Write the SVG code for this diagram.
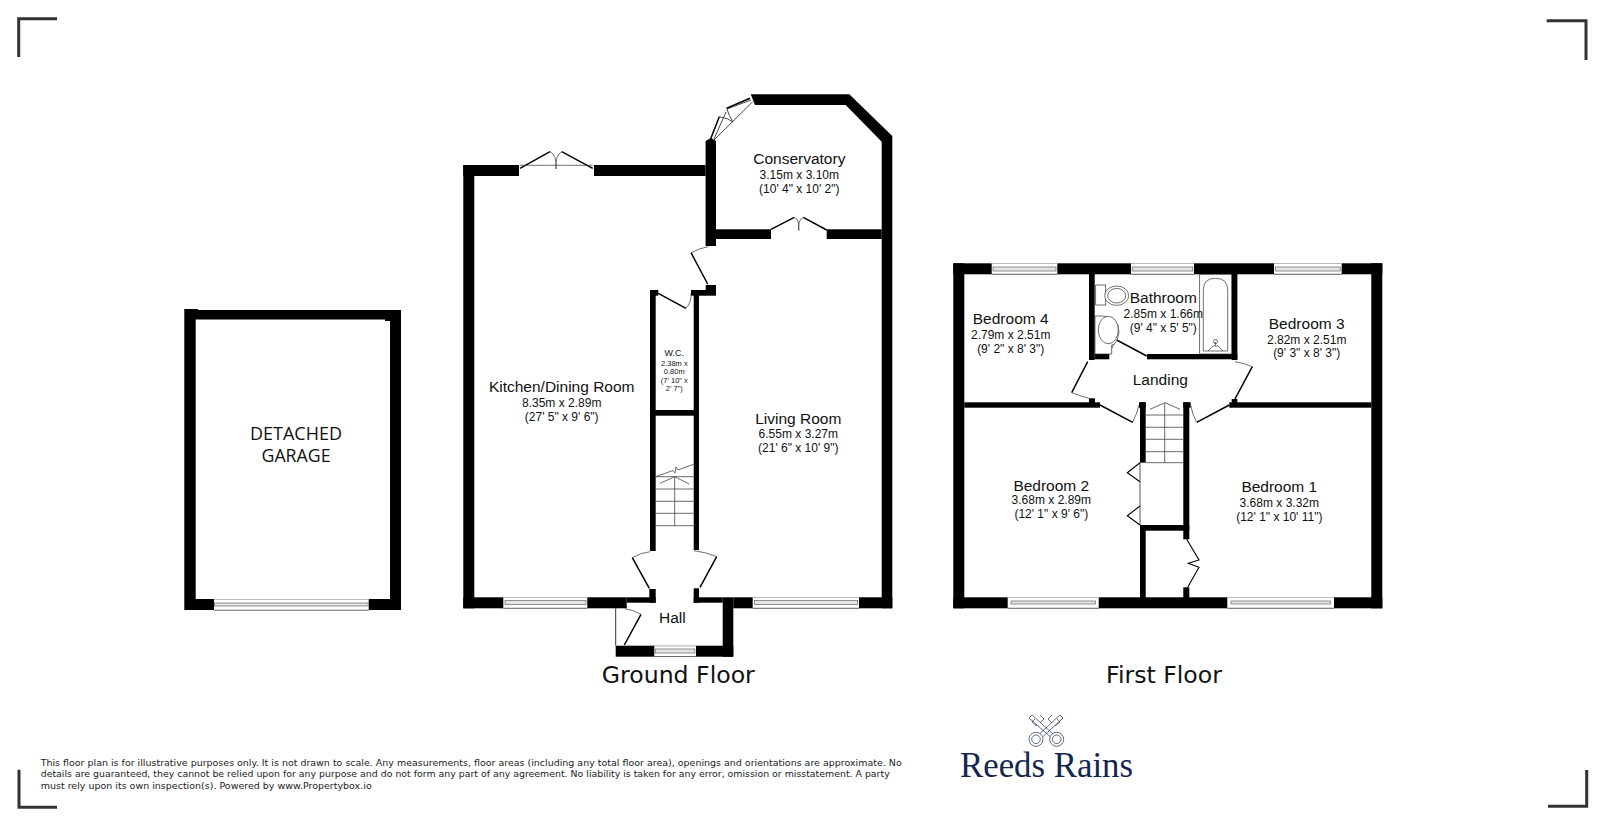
<svg xmlns="http://www.w3.org/2000/svg" width="1600" height="817" viewBox="0 0 1600 817">
<defs>
<style>
.wall{fill:#000}
.leaf{fill:none;stroke:#000;stroke-width:1.5}
.thin{fill:none;stroke:#333;stroke-width:.7}
.tread{fill:none;stroke:#444;stroke-width:.8}
.fix{fill:#fff;stroke:#333;stroke-width:.7}
.mark{fill:none;stroke:#333;stroke-width:3}
.w0{fill:#fff}
.wt{fill:#bbb}
.wb{fill:#444}
.wi{fill:#e4e4e4;stroke:#777;stroke-width:.8}
text{font-family:"Liberation Sans",Arial,sans-serif;fill:#111;text-anchor:middle}
.n{font-size:15.5px}
.d{font-size:12px}
.f{font-family:"DejaVu Sans",Verdana,sans-serif;font-size:23.6px}
.g{font-family:"Open Sans",sans-serif;font-size:18.5px}
.l{font-family:"DejaVu Sans",Verdana,sans-serif;font-size:9px;text-anchor:start;fill:#222}
.key{fill:none;stroke:#3a4668;stroke-width:.8}
.logo{font-family:"Liberation Serif",serif;font-size:36px;fill:#13264f;text-anchor:start}
</style>
</defs>
<rect width="1600" height="817" fill="#fff"/>

<g id="corners">
<path class="mark" d="M57 18.7H18.700V57"/>
<path class="mark" d="M1546.700 20.700H1586V60"/>
<path class="mark" d="M19 769.700V807.300H57"/>
<path class="mark" d="M1548 806.300H1586.700V770"/>
</g>

<g id="garage">
<path class="wall" fill-rule="evenodd" d="M184.300 309H198V310H401V610H184.300ZM195.700 321V599H390V321H385V319.500H195.700Z"/>
<g id="garage-window"><rect class="w0" x="214" y="598.500" width="154.700" height="12"/><rect class="wt" x="214" y="599" width="154.700" height="1"/><rect class="wi" x="214.500" y="603" width="153.700" height="3"/><rect class="wb" x="214" y="609.800" width="154.700" height=".8"/></g>
<text class="g" x="296" y="440" textLength="92" lengthAdjust="spacingAndGlyphs">DETACHED</text>
<text class="g" x="296" y="462.300" textLength="69" lengthAdjust="spacingAndGlyphs">GARAGE</text>
</g>

<g id="ground-floor-walls" class="wall">
<rect x="463.300" y="165" width="55.700" height="11"/>
<rect x="594" y="165" width="111.600" height="11"/>
<rect x="463.300" y="165" width="11" height="443.300"/>
<rect x="463.300" y="597.300" width="163.400" height="11"/>
<rect x="626.700" y="597.300" width="29" height="5.400"/>
<rect x="649.300" y="589" width="6.400" height="13.700"/>
<path d="M705.600 141L711 138L716 141V246H705.600Z"/>
<rect x="716" y="229.300" width="55" height="9.700"/>
<rect x="826.700" y="229.300" width="55" height="9.700"/>
<path d="M750.700 94.300H849.300L892.300 136V608.300H881.700V141.700L845.700 105H755Z"/>
<rect x="693.700" y="588.300" width="5.300" height="14.400"/>
<rect x="693.700" y="597.300" width="29" height="5.400"/>
<rect x="722.700" y="597.300" width="10.600" height="59.400"/>
<rect x="615.700" y="645.700" width="117.600" height="11"/>
<rect x="733.300" y="597.300" width="159" height="11"/>
<rect x="705.700" y="285" width="10.300" height="10.700"/>
<rect x="691" y="290" width="15" height="5.700"/>
<rect x="693.700" y="290" width="5.300" height="260"/>
<rect x="650" y="290" width="8.300" height="5.700"/>
<rect x="650" y="290" width="5.700" height="261"/>
<rect x="650" y="410" width="49" height="5.700"/>
</g>
<path id="hall-side" class="thin" style="stroke-width:1" d="M615.700 608.300V645.700"/>

<g id="ground-floor-windows">
<g id="gw1"><rect class="w0" x="503.300" y="597" width="84" height="11.500"/><rect class="wt" x="503.300" y="597" width="84" height="1"/><rect class="wi" x="505" y="600.500" width="81" height="4"/><rect class="wb" x="503.300" y="607.800" width="84" height=".8"/></g>
<g id="gw2"><rect class="w0" x="752.700" y="597" width="106.300" height="11.500"/><rect class="wt" x="752.700" y="597" width="106.300" height="1"/><rect class="wi" x="754.500" y="600.500" width="103" height="4"/><rect class="wb" x="752.700" y="607.800" width="106.300" height=".8"/></g>
<g id="gw3"><rect class="w0" x="654.300" y="645.500" width="41.700" height="11.500"/><rect class="wt" x="654.300" y="645.500" width="41.700" height="1"/><rect class="wi" x="655.500" y="649" width="39.300" height="4"/><rect class="wb" x="654.300" y="656.200" width="41.700" height=".8"/></g>
</g>

<g id="ground-floor-doors">
<path class="leaf" d="M520 168.300L550 151.700M561.700 151.700L592.700 168.300"/>
<path class="thin" d="M520 165.300H592.700M550 151.700Q557 155 556 169M561.700 151.700Q555 155 556 169"/>
<path class="leaf" d="M771 229.300L794.300 217.300M803.300 217.300L826.700 230"/>
<path class="thin" d="M794.300 217.300Q800 220 798.700 230.700M803.300 217.300Q797.500 220 798.700 230.700"/>
<path class="leaf" d="M710.500 139.300L719.300 116.700M726.700 108.300L750 98.300"/>
<path class="thin" style="stroke-width:.9" d="M713.300 140.700L752.700 101.700M719.300 116.700Q728 118 733 122M726.700 108.300Q729 116 733 122M714 139L726 112M727 109L751 100"/>
<path class="leaf" d="M691 252.700L707.700 284"/>
<path class="thin" d="M691 252.700Q700 248 708.300 246.700"/>
<path class="leaf" d="M658.300 293.300L686 308.300"/>
<path class="thin" d="M686 308.300Q692 302 691 293"/>
<path class="leaf" d="M632.300 557.700L649.300 588.300M716.700 556.700L700 587.300M641 614.300L624.300 645"/>
<path class="thin" d="M632.300 557.700Q640 553 650 551.700M716.700 556.700Q706 552 693.700 550.700M641 614.300Q634 610 625 608.700"/>
</g>

<g id="ground-floor-stairs">
<path class="tread" d="M655.700 476.700H693.700M655.700 489H693.700M655.700 501.300H693.700M655.700 513.300H693.700M655.700 525.700H693.700M674.700 476.700V525.700M674.700 476.700L660 483.300M674.700 476.700L689 484"/>
<path class="tread" d="M655.700 476.700L673 470.500L675 473L676 467L678 470L693.700 464.300"/>
</g>

<g id="first-floor-walls" class="wall">
<rect x="953.300" y="263.300" width="429" height="11"/>
<rect x="953.300" y="263.300" width="11" height="345"/>
<rect x="1371.300" y="263.300" width="11" height="345"/>
<rect x="953.300" y="597.300" width="429" height="11"/>
<rect x="1089" y="274" width="5.700" height="86"/>
<rect x="1231.700" y="274" width="5.700" height="86"/>
<rect x="1147" y="354" width="90.300" height="5.300"/>
<rect x="1094.700" y="354" width="14.600" height="5.300"/>
<rect x="964.300" y="402.300" width="135.700" height="5.400"/>
<rect x="1089" y="398.300" width="6" height="5"/>
<rect x="1229.300" y="402.300" width="142" height="5.400"/>
<rect x="1231.700" y="399" width="5.600" height="5"/>
<rect x="1139" y="402.300" width="6.700" height="5.400"/>
<rect x="1140" y="402.300" width="5.700" height="60.400"/>
<rect x="1183.300" y="402.300" width="7.400" height="5.400"/>
<rect x="1183.300" y="402.300" width="6" height="137"/>
<rect x="1140" y="525" width="49.300" height="5.700"/>
<rect x="1140" y="525" width="5.700" height="73"/>
<rect x="1183.300" y="587.300" width="6" height="11"/>
</g>

<g id="first-floor-windows">
<g id="fw1"><rect class="w0" x="991.700" y="263" width="65.600" height="11.500"/><rect class="wt" x="991.700" y="263" width="65.600" height="1"/><rect class="wi" x="993" y="267" width="63" height="4"/><rect class="wb" x="991.700" y="273.800" width="65.600" height=".8"/></g>
<g id="fw2"><rect class="w0" x="1131" y="263" width="63" height="11.500"/><rect class="wt" x="1131" y="263" width="63" height="1"/><rect class="wi" x="1132.300" y="267" width="60.400" height="4"/><rect class="wb" x="1131" y="273.800" width="63" height=".8"/></g>
<g id="fw3"><rect class="w0" x="1274" y="263" width="67.700" height="11.500"/><rect class="wt" x="1274" y="263" width="67.700" height="1"/><rect class="wi" x="1275.300" y="267" width="65" height="4"/><rect class="wb" x="1274" y="273.800" width="67.700" height=".8"/></g>
<g id="fw4"><rect class="w0" x="1007.700" y="597" width="91" height="11.500"/><rect class="wt" x="1007.700" y="597" width="91" height="1"/><rect class="wi" x="1011" y="601" width="84.500" height="3"/><rect class="wb" x="1007.700" y="607.800" width="91" height=".8"/></g>
<g id="fw5"><rect class="w0" x="1227.300" y="597" width="106.700" height="11.500"/><rect class="wt" x="1227.300" y="597" width="106.700" height="1"/><rect class="wi" x="1231" y="601" width="99.500" height="3"/><rect class="wb" x="1227.300" y="607.800" width="106.700" height=".8"/></g>
</g>

<g id="first-floor-doors">
<path class="leaf" d="M1116.700 340L1146.700 356M1087.700 361.700L1071.700 392.700M1100 405L1132.700 422.300M1229.300 405L1196.700 422.300M1252.300 366.700L1235 399"/>
<path class="thin" d="M1109.300 354Q1112 346 1116.700 340M1071.700 392.700Q1080 396 1089 398.300M1132.700 422.300Q1137 414 1139 405M1196.700 422.300Q1192 414 1190.700 405M1252.300 366.700Q1244 363 1235 361.700"/>
<path class="leaf" style="stroke-width:1.1" d="M1186.700 539.300L1199 560L1188.300 563.300L1199 567.300L1187.700 587.300"/>
<path class="thin" style="stroke:#555;stroke-width:1" d="M1140 462.700V525"/>
<path class="leaf" style="stroke-width:1.1" d="M1140 462.700L1127.300 472.700L1140 481.700M1140 506L1127.300 515.700L1140 525"/>
</g>

<g id="first-floor-stairs">
<path class="tread" d="M1145.700 415H1183.300M1145.700 427.300H1183.300M1145.700 439.300H1183.300M1145.700 451.700H1183.300M1145.700 462.700H1183.300M1164.700 402.700V462.700M1165 402.700L1150 409.300M1165 402.700L1180 409.300"/>
</g>

<g id="bathroom-fixtures">
<rect class="fix" x="1199.700" y="274.300" width="32" height="79.700"/>
<path class="fix" d="M1203.300 351V290Q1203.300 278.300 1215.500 278.300Q1227.700 278.300 1227.700 290V351Z"/>
<path class="thin" d="M1208 351L1213 346H1218L1223 351M1215.500 346V342"/>
<circle class="thin" cx="1215.500" cy="341.500" r="2"/>
<rect class="fix" x="1095.700" y="285" width="10" height="20"/>
<ellipse class="fix" cx="1116.700" cy="295.700" rx="12" ry="9.700"/>
<ellipse class="thin" cx="1116.700" cy="295.700" rx="9" ry="7.300"/>
<path class="fix" d="M1095 345V316H1103Q1119 318 1119 332Q1117 345 1111.700 345V354H1095Z"/>
<ellipse class="fix" cx="1108.300" cy="330" rx="10" ry="13.700"/>
</g>

<g id="labels">
<g id="label-conservatory"><text class="n" x="799.300" y="164">Conservatory</text><text class="d" x="799.300" y="179">3.15m x 3.10m</text><text class="d" x="799.300" y="192.500">(10' 4" x 10' 2")</text></g>
<g id="label-kitchen"><text class="n" x="561.700" y="392">Kitchen/Dining Room</text><text class="d" x="561.700" y="406.700">8.35m x 2.89m</text><text class="d" x="561.700" y="420.700">(27' 5" x 9' 6")</text></g>
<g id="label-living"><text class="n" x="798.300" y="424">Living Room</text><text class="d" x="798.300" y="438">6.55m x 3.27m</text><text class="d" x="798.300" y="451.700">(21' 6" x 10' 9")</text></g>
<g id="label-wc"><text x="674.300" y="355.700" style="font-size:9px">W.C.</text><text x="674.300" y="366" style="font-size:7.500px">2.38m x</text><text x="674.300" y="374.300" style="font-size:7.500px">0.80m</text><text x="674.300" y="382.700" style="font-size:7.500px">(7' 10" x</text><text x="674.300" y="391" style="font-size:7.500px">2' 7")</text></g>
<text id="label-hall" class="n" x="672.300" y="623.300">Hall</text>
<g id="label-bed4"><text class="n" x="1010.700" y="324">Bedroom 4</text><text class="d" x="1010.700" y="338.700">2.79m x 2.51m</text><text class="d" x="1010.700" y="352.700">(9' 2" x 8' 3")</text></g>
<g id="label-bath"><text class="n" x="1163.300" y="302.700">Bathroom</text><text class="d" x="1163.300" y="317.700">2.85m x 1.66m</text><text class="d" x="1163.300" y="332">(9' 4" x 5' 5")</text></g>
<g id="label-bed3"><text class="n" x="1306.700" y="329">Bedroom 3</text><text class="d" x="1306.700" y="344">2.82m x 2.51m</text><text class="d" x="1306.700" y="357.300">(9' 3" x 8' 3")</text></g>
<text id="label-landing" class="n" x="1160.300" y="385">Landing</text>
<g id="label-bed2"><text class="n" x="1051.300" y="491">Bedroom 2</text><text class="d" x="1051.300" y="504.300">3.68m x 2.89m</text><text class="d" x="1051.300" y="518.300">(12' 1" x 9' 6")</text></g>
<g id="label-bed1"><text class="n" x="1279.300" y="492">Bedroom 1</text><text class="d" x="1279.300" y="506.700">3.68m x 3.32m</text><text class="d" x="1279.300" y="520.700">(12' 1" x 10' 11")</text></g>
<text id="title-ground" class="f" x="678.300" y="682.700">Ground Floor</text>
<text id="title-first" class="f" x="1164" y="682.700">First Floor</text>
</g>

<g id="disclaimer">
<text class="l" x="40.700" y="766" textLength="861" lengthAdjust="spacingAndGlyphs">This floor plan is for illustrative purposes only. It is not drawn to scale. Any measurements, floor areas (including any total floor area), openings and orientations are approximate. No</text>
<text class="l" x="40.700" y="777.300" textLength="849" lengthAdjust="spacingAndGlyphs">details are guaranteed, they cannot be relied upon for any purpose and do not form any part of any agreement. No liability is taken for any error, omission or misstatement. A party</text>
<text class="l" x="40.700" y="788.700" textLength="331" lengthAdjust="spacingAndGlyphs">must rely upon its own inspection(s). Powered by www.Propertybox.io</text>
</g>

<g id="logo">
<g class="key">
<circle cx="1036" cy="739.300" r="7"/><circle cx="1036" cy="739.300" r="4.300"/>
<circle cx="1056.700" cy="739.300" r="7"/><circle cx="1056.700" cy="739.300" r="4.300"/>
<path d="M1040 733.500L1060 715L1063 718L1043 736.500M1052.500 733.500L1032 715L1029 718L1050 736.500"/>
<path d="M1052 723L1048 719L1052 715M1055 726L1060 722L1057 719M1040 723L1044 719L1040 715M1037 726L1032 722L1035 719"/>
</g>
<text class="logo" x="960" y="777" textLength="173" lengthAdjust="spacingAndGlyphs">Reeds Rains</text>
</g>
</svg>
